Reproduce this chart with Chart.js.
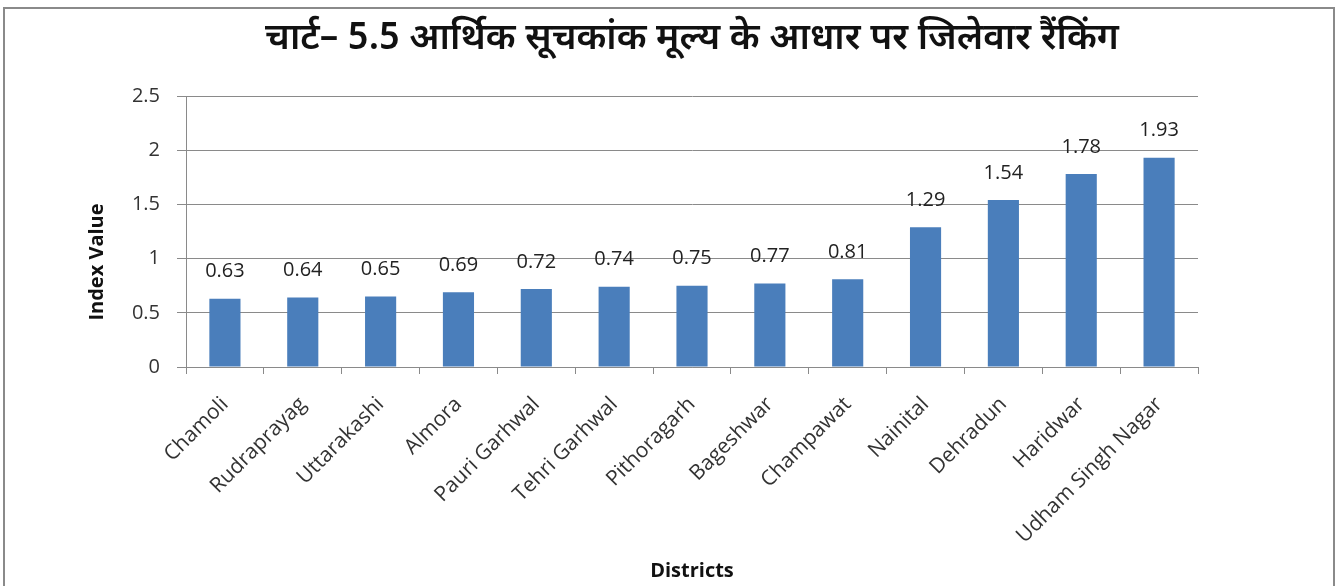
<!DOCTYPE html>
<html>
<head>
<meta charset="utf-8">
<script src="https://cdn.jsdelivr.net/npm/chart.js@4.4.0/dist/chart.umd.min.js"></script>
<style>
  html, body { margin: 0; padding: 0; background: #fff; }
  #wrap { position: relative; width: 1336px; height: 586px; }
  #frame { position: absolute; left: 3px; top: 7px; width: 1328px; height: 600px;
           border: 2px solid #8a8a8a; pointer-events: none; }
</style>
</head>
<body>
<div id="wrap">
  <canvas id="myGraph" width="1336" height="586"></canvas>
  <div id="frame"></div>
</div>
<script>
var districts = ['Chamoli', 'Rudraprayag', 'Uttarakashi', 'Almora', 'Pauri Garhwal', 'Tehri Garhwal',
    'Pithoragarh', 'Bageshwar', 'Champawat', 'Nainital', 'Dehradun', 'Haridwar', 'Udham Singh Nagar'];
var indexValues = [0.63, 0.64, 0.65, 0.69, 0.72, 0.74, 0.75, 0.77, 0.81, 1.29, 1.54, 1.78, 1.93];
var yTicks = [0, 0.5, 1, 1.5, 2, 2.5];
var chartTitle = 'चार्ट– 5.5 आर्थिक सूचकांक मूल्य के आधार पर जिलेवार रैंकिंग';
var yTitle = 'Index Value';
var xTitle = 'Districts';

var labelFont = "'Open Sans', 'Liberation Sans', sans-serif";

// value labels above the bars, chart title and y title
var extras = {
    id: 'extras',
    afterDatasetsDraw: function (chart) {
        var ctx = chart.ctx;
        var meta = chart.getDatasetMeta(0);
        var area = chart.chartArea;
        ctx.save();
        ctx.fillStyle = '#222';
        ctx.font = "20px " + labelFont;
        ctx.textAlign = 'center';
        ctx.textBaseline = 'middle';
        meta.data.forEach(function (bar, i) {
            ctx.fillText(indexValues[i], bar.x, bar.y - 27);
        });

        ctx.font = "600 37px 'Noto Sans Devanagari', 'Lohit Devanagari', 'Noto Sans', sans-serif";
        ctx.fillStyle = '#111';
        ctx.fillText(chartTitle, (area.left + area.right) / 2, 42);

        // y title sits a bit lower than the plot centre in the original
        ctx.translate(97, 262);
        ctx.rotate(-Math.PI / 2);
        ctx.font = "bold 20px " + labelFont;
        ctx.fillText(yTitle, 0, 0);
        ctx.restore();
    }
};

var ctx = document.getElementById('myGraph');
var myChart = new Chart(ctx, {
    type: 'bar',
    data: {
        labels: districts,
        datasets: [{
            label: yTitle,
            data: indexValues,
            backgroundColor: '#4a7ebb',
            borderWidth: 0,
            barPercentage: 0.4,
            categoryPercentage: 1
        }]
    },
    options: {
        responsive: false,
        animation: false,
        layout: { padding: { top: 96, right: 138, left: 0, bottom: 0 } },
        plugins: {
            legend: { display: false },
            tooltip: { enabled: false }
        },
        scales: {
            x: {
                afterFit: function (scale) { scale.height = 219; },
                grid: { display: true, drawOnChartArea: false, drawTicks: true, tickLength: 7, color: '#8a8a8a', offset: true },
                border: { color: '#8a8a8a' },
                ticks: { maxRotation: 45, minRotation: 45, color: '#333', padding: 18,
                         font: { family: labelFont, size: 21 } },
                title: { display: true, text: xTitle, color: '#111',
                         font: { family: labelFont, size: 20, weight: 'bold' },
                         padding: { top: 0, bottom: 3 } }
            },
            y: {
                min: 0, max: 2.5,
                afterFit: function (scale) { scale.width = 186; },
                afterBuildTicks: function (scale) {
                    scale.ticks = yTicks.map(function (v) { return { value: v }; });
                },
                grid: { color: '#8a8a8a', tickLength: 9 },
                border: { color: '#8a8a8a' },
                ticks: { color: '#333', padding: 17, font: { family: labelFont, size: 20 },
                         callback: function (v) { return String(v); } }
            }
        }
    },
    plugins: [extras]
});
</script>
</body>
</html>
